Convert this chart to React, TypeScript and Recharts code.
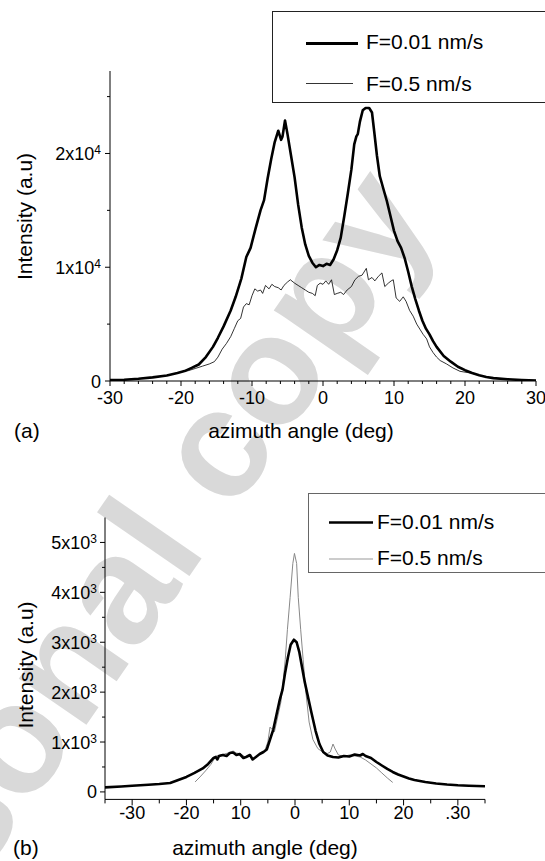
import React from "react";
import { LineChart, Line, XAxis, YAxis } from "recharts";

const FONT = "'Liberation Sans', Arial, Helvetica, sans-serif";

// ---- panel (a): azimuthal scans, x in deg, intensity in a.u.
const aAngleSlow = [-30, -28, -26, -24, -22, -20.5, -19.5, -18.5, -17.5, -16.5, -15.5, -14.8, -14, -13, -12.3, -11.5, -10.8, -10.2, -9.5, -8.8, -8.3, -7.8, -7.3, -6.8, -6.3, -5.9, -5.7, -5.35, -5, -4.5, -4, -3.5, -3, -2.5, -2, -1.5, -1, -0.5, 0, 0.5, 1, 1.5, 2, 2.5, 3, 3.5, 4, 4.4, 4.7, 4.9, 5.2, 5.6, 6, 6.5, 6.9, 7.2, 7.6, 8, 8.5, 9, 9.5, 10, 10.5, 11, 11.5, 12, 12.5, 13, 13.5, 14, 14.5, 15, 15.5, 16, 17, 18, 19, 20, 21, 22, 23, 24, 26, 28, 30];
const aIntSlow = [80, 110, 200, 320, 480, 700, 870, 1150, 1450, 2100, 3000, 3800, 4800, 6200, 7400, 9000, 10900, 11700, 13400, 15000, 15900, 17800, 19500, 21000, 22000, 21200, 21500, 22900, 21700, 19800, 17900, 15500, 13500, 12000, 11000, 10400, 10000, 10200, 10100, 10300, 10200, 10700, 11500, 12600, 14500, 16500, 18600, 20800, 21500, 21700, 22800, 23800, 24000, 24000, 23600, 22000, 19800, 18000, 16900, 15800, 14500, 13200, 12300, 11700, 10800, 9600, 8300, 7200, 6200, 5300, 4600, 4100, 3500, 3000, 2200, 1700, 1250, 950, 700, 500, 350, 250, 150, 90, 50];

const aAngleFast = [-30, -28, -26, -24, -22, -20.5, -19.5, -19, -18, -17, -16, -15.3, -14.8, -14.2, -13.6, -13, -12.5, -12, -11.6, -11.2, -10.8, -10.4, -10, -9.6, -9.2, -8.8, -8.5, -8.1, -7.6, -7.2, -6.8, -6.3, -5.9, -5.5, -5, -4.6, -4, -3.5, -3, -2.5, -2, -1.5, -1.1, -0.8, -0.4, 0, 0.4, 0.8, 1.2, 1.6, 2, 2.5, 2.9, 3.4, 4, 4.5, 5, 5.5, 6.1, 6.4, 6.9, 7.3, 7.8, 8.3, 8.7, 9.2, 9.6, 9.9, 10.3, 10.8, 11.3, 11.7, 12.2, 12.7, 13.2, 13.7, 14.1, 14.6, 15, 15.5, 16, 16.5, 17.4, 18.3, 19.3, 20, 21, 22, 24, 26, 28, 30];
const aIntFast = [80, 110, 200, 320, 480, 700, 870, 900, 1100, 1300, 1500, 1700, 2100, 2800, 3300, 3900, 4600, 5300, 5500, 6500, 6800, 6700, 7500, 8100, 7900, 8000, 7700, 8400, 8100, 8500, 8300, 8200, 8000, 8400, 8700, 8900, 8600, 8400, 8200, 8000, 7800, 7700, 7500, 8400, 8600, 8500, 8800, 8500, 8900, 7600, 7700, 7800, 7600, 8000, 8300, 8900, 9200, 9300, 9900, 8900, 9100, 8800, 9200, 9500, 8300, 8600, 8800, 8900, 7300, 7000, 7400, 7000, 6200, 5700, 5000, 4500, 4100, 3700, 3000, 2500, 2100, 1800, 1500, 1150, 850, 780, 680, 490, 240, 140, 80, 50];

const aXTicks = [-30, -28, -26, -24, -22, -20, -18, -16, -14, -12, -10, -8, -6, -4, -2, 0, 2, 4, 6, 8, 10, 12, 14, 16, 18, 20, 22, 24, 26, 28, 30];
const aXMajor = [-30, -20, -10, 0, 10, 20, 30];
const aXLabels = ["-30", "-20", "-10", "0", "10", "20", "30"];
const aYTicks = [0, 5000, 10000, 15000, 20000, 25000];
const aYMajor = [0, 10000, 20000];
const aYMant = ["0", "1x10", "2x10"];
const aYExp = ["", "4", "4"];

// ---- panel (b)
const bAngleSlow = [-35, -32, -30, -27, -25, -23, -21.5, -20, -18.5, -17, -16, -15, -14.6, -14.3, -14, -13.3, -12.6, -12, -11.4, -10.8, -10.2, -9.5, -9, -8.3, -7.8, -7.2, -6.5, -5.8, -5.2, -4.6, -4, -3.4, -2.8, -2.3, -1.8, -1.3, -0.8, -0.2, 0.3, 0.8, 1.3, 1.8, 2.3, 3, 3.8, 4.5, 5.2, 6, 7, 8, 9, 10, 11, 12, 12.5, 13, 14, 15, 16, 17, 18, 19, 20, 21, 22, 24, 26, 28, 30, 32, 35];
const bIntSlow = [90, 110, 125, 145, 160, 180, 240, 300, 380, 470, 560, 680, 700, 650, 720, 740, 720, 780, 790, 740, 760, 680, 700, 740, 650, 700, 760, 800, 850, 1050, 1250, 1550, 1850, 2050, 2400, 2700, 2950, 3050, 3000, 2800, 2500, 2200, 1950, 1600, 1220, 960, 800, 730, 700, 690, 720, 710, 750, 730, 760, 720, 680, 600, 530, 460, 400, 350, 310, 270, 240, 200, 170, 150, 135, 125, 115];

const bAngleFast = [-18.4, -17.5, -16.5, -15.5, -15, -14.6, -14, -13, -12, -11.4, -10.8, -10, -9.2, -8.5, -7.8, -7, -6.3, -5.6, -5, -4.6, -4.2, -3.8, -3.2, -2.6, -2.2, -1.8, -1.4, -0.9, -0.4, -0.1, 0.3, 0.6, 1.05, 1.5, 2, 2.6, 3.3, 4.2, 5.2, 6, 6.5, 7, 7.4, 8, 9, 10, 11, 12, 13, 14, 15, 16, 17, 18];
const bIntFast = [200, 300, 420, 550, 640, 720, 730, 760, 790, 820, 780, 760, 700, 720, 670, 720, 790, 820, 1000, 1300, 1250, 1200, 1500, 1800, 2200, 2650, 3250, 3900, 4580, 4780, 4580, 3900, 3250, 2650, 2000, 1400, 1050, 870, 790, 770, 800, 960, 860, 740, 710, 740, 720, 700, 640, 560, 480, 380, 280, 190];

const bXTicks = [-35, -30, -25, -20, -15, -10, -5, 0, 5, 10, 15, 20, 25, 30, 35];
const bXMajor = [-30, -20, -10, 0, 10, 20, 30];
const bXLabels = ["-30", "-20", "10", "0", "10", "20", ".30"];
const bYTicks = [0, 500, 1000, 1500, 2000, 2500, 3000, 3500, 4000, 4500, 5000];
const bYMajor = [0, 1000, 2000, 3000, 4000, 5000];
const bYMant = ["0", "1x10", "2x10", "3x10", "4x10", "5x10"];
const bYExp = ["", "3", "3", "3", "3", "3"];

const toPoints = (xs: number[], ys: number[]) => xs.map((x, i) => ({ x, y: ys[i] }));

const makeXTick =
  (major: number[], labels: string[], majorLen: number, minorLen: number, dy: number) =>
  (props: any) => {
    const { x, y, payload } = props;
    const i = major.indexOf(payload.value);
    return (
      <g>
        <line x1={x} x2={x} y1={y} y2={y + (i >= 0 ? majorLen : minorLen)} stroke="#000" strokeWidth={1} />
        {i >= 0 && (
          <text x={x} y={y + dy} textAnchor="middle" fontFamily={FONT} fontSize={18} fill="#000">
            {labels[i]}
          </text>
        )}
      </g>
    );
  };

const makeYTick =
  (major: number[], mant: string[], exp: string[], majorLen: number, minorLen: number, gap: number) =>
  (props: any) => {
    const { x, y, payload } = props;
    const i = major.indexOf(payload.value);
    return (
      <g>
        <line x1={x} x2={x - (i >= 0 ? majorLen : minorLen)} y1={y} y2={y} stroke="#000" strokeWidth={1} />
        {i >= 0 && (
          <text x={x - gap} y={y + 6.5} textAnchor="end" fontFamily={FONT} fontSize={18} fill="#000">
            {mant[i]}
            {exp[i] && (
              <tspan dy={-6} fontSize={12}>
                {exp[i]}
              </tspan>
            )}
          </text>
        )}
      </g>
    );
  };

function Watermark() {
  return (
    <svg width={545} height={861} style={{ position: "absolute", left: 0, top: 0 }}>
      <text
        x={-165}
        y={1088}
        transform="rotate(-55.3 -165 1088)"
        fontFamily={FONT}
        fontWeight="bold"
        fontSize={155}
        fill="#d9d9d9"
      >
        Personal copy
      </text>
    </svg>
  );
}

function Overlay() {
  const t = { fontFamily: FONT, fill: "#000" };
  return (
    <svg width={545} height={861} style={{ position: "absolute", left: 0, top: 0, pointerEvents: "none" }}>
      {/* legend (a) */}
      <rect x={272.5} y={11.5} width={300} height={91} fill="#fff" stroke="#222" strokeWidth={1} />
      <line x1={306} x2={358} y1={43.5} y2={43.5} stroke="#000" strokeWidth={3} />
      <text x={366} y={49} fontSize={21} {...t}>F=0.01 nm/s</text>
      <line x1={306} x2={353} y1={83.5} y2={83.5} stroke="#000" strokeWidth={0.8} />
      <text x={366} y={91} fontSize={21} {...t}>F=0.5 nm/s</text>

      {/* legend (b) */}
      <rect x={308.5} y={493.5} width={300} height={79} fill="#fff" stroke="#666" strokeWidth={1} />
      <line x1={329} x2={373} y1={522.5} y2={522.5} stroke="#000" strokeWidth={2.5} />
      <text x={377} y={528.5} fontSize={21} {...t}>F=0.01 nm/s</text>
      <line x1={329} x2={373} y1={559} y2={559} stroke="#999" strokeWidth={1} />
      <text x={377} y={564.5} fontSize={21} {...t}>F=0.5 nm/s</text>

      {/* axis titles */}
      <text x={31.5} y={216.5} fontSize={21} textAnchor="middle" transform="rotate(-90 31.5 216.5)" {...t}>
        Intensity (a.u)
      </text>
      <text x={301} y={438} fontSize={21} textAnchor="middle" {...t}>azimuth angle (deg)</text>
      <text x={14} y={438} fontSize={21} {...t}>(a)</text>

      <text x={33} y={665} fontSize={21} textAnchor="middle" transform="rotate(-90 33 665)" {...t}>
        Intensity (a.u)
      </text>
      <text x={265} y={855} fontSize={21} textAnchor="middle" {...t}>azimuth angle (deg)</text>
      <text x={13} y={855} fontSize={21} {...t}>(b)</text>
    </svg>
  );
}

export default function App() {
  const aSlow = toPoints(aAngleSlow, aIntSlow);
  const aFast = toPoints(aAngleFast, aIntFast);
  const bSlow = toPoints(bAngleSlow, bIntSlow);
  const bFast = toPoints(bAngleFast, bIntFast);

  return (
    <div style={{ position: "absolute", left: 0, top: 0, width: 545, height: 861, background: "#fff", overflow: "hidden" }}>
      <Watermark />

      <div style={{ position: "absolute", left: 0, top: 0 }}>
        <LineChart width={545} height={440} margin={{ top: 71, right: 9, bottom: 29, left: 50 }}>
          <XAxis
            dataKey="x"
            type="number"
            domain={[-30, 30]}
            ticks={aXTicks}
            interval={0}
            allowDataOverflow
            height={30}
            tickSize={0}
            tickMargin={0}
            tickLine={false}
            axisLine={{ stroke: "#000", strokeWidth: 1 }}
            tick={makeXTick(aXMajor, aXLabels, 5, 3, 23)}
          />
          <YAxis
            type="number"
            domain={[0, 27250]}
            ticks={aYTicks}
            interval={0}
            allowDataOverflow
            width={60}
            tickSize={0}
            tickMargin={0}
            tickLine={false}
            axisLine={{ stroke: "#000", strokeWidth: 1 }}
            tick={makeYTick(aYMajor, aYMant, aYExp, 5, 3, 9)}
          />
          <Line data={aFast} dataKey="y" type="linear" dot={false} stroke="#000" strokeWidth={0.8} isAnimationActive={false} />
          <Line data={aSlow} dataKey="y" type="linear" dot={false} stroke="#000" strokeWidth={2.6} strokeLinejoin="round" isAnimationActive={false} />
        </LineChart>
      </div>

      <div style={{ position: "absolute", left: 0, top: 440 }}>
        <LineChart width={545} height={421} margin={{ top: 77.5, right: 60, bottom: 31.6, left: 45 }}>
          <XAxis
            dataKey="x"
            type="number"
            domain={[-35, 35]}
            ticks={bXTicks}
            interval={0}
            allowDataOverflow
            height={30}
            tickSize={0}
            tickMargin={0}
            tickLine={false}
            axisLine={{ stroke: "#000", strokeWidth: 1 }}
            tick={makeXTick(bXMajor, bXLabels, 6, 4, 20)}
          />
          <YAxis
            type="number"
            domain={[-150, 5500]}
            ticks={bYTicks}
            interval={0}
            allowDataOverflow
            width={60}
            tickSize={0}
            tickMargin={0}
            tickLine={false}
            axisLine={{ stroke: "#000", strokeWidth: 1 }}
            tick={makeYTick(bYMajor, bYMant, bYExp, 5, 3, 8)}
          />
          <Line data={bFast} dataKey="y" type="linear" dot={false} stroke="#888" strokeWidth={1} isAnimationActive={false} />
          <Line data={bSlow} dataKey="y" type="linear" dot={false} stroke="#000" strokeWidth={2.6} strokeLinejoin="round" isAnimationActive={false} />
        </LineChart>
      </div>

      <Overlay />
    </div>
  );
}
